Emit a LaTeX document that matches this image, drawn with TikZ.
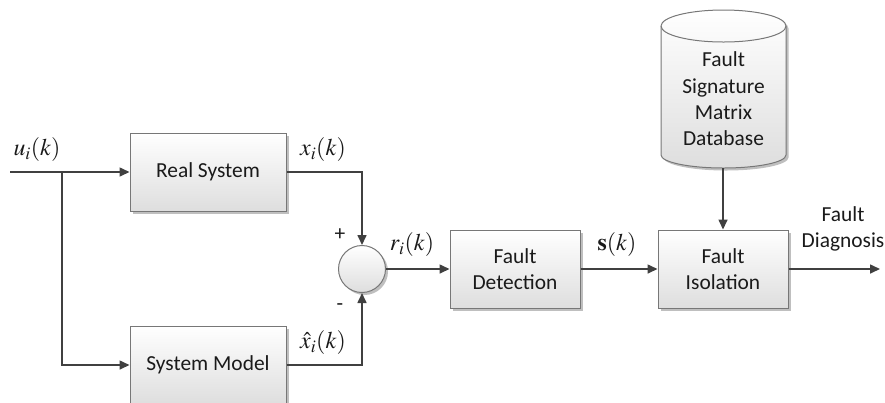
\documentclass[tikz,border=0pt]{standalone}
\usepackage{mathptmx}
\usepackage[no-math]{fontspec}
\setmainfont{Carlito}
\usetikzlibrary{arrows.meta,shadows}
\definecolor{ln}{HTML}{404040}
\definecolor{bd}{HTML}{777777}
\definecolor{txt}{HTML}{1a1a1a}
\begin{document}
\begin{tikzpicture}[x=1bp,y=-1bp,
  font=\fontsize{21.5}{26.5}\selectfont, text=txt,
  shd/.style={drop shadow={shadow xshift=2.5bp,shadow yshift=-2.5bp,opacity=0.25,fill=black}},
  blk/.style={draw=bd, line width=1bp, top color=white, bottom color=black!13,
    minimum width=156bp, minimum height=78bp, inner sep=0pt, align=center, shd},
  conn/.style={draw=ln, line width=1.6bp, -{Triangle[length=10bp,width=9bp]}},
  lbl/.style={inner sep=0pt},
  mth/.style={inner sep=0pt, font=\fontsize{24}{28}\selectfont},
]
\useasboundingbox (0,0) rectangle (885,402);
% blocks
\node[blk] (rs) at (208,172) {Real System};
\node[blk] (sm) at (208,365) {System Model};
\node[circle, draw=bd, line width=1bp, minimum size=47bp, inner sep=0pt,
  top color=white, bottom color=black!13, shd] (sum) at (362,269) {};
\node[blk, minimum width=130bp] (fd) at (515,269) {Fault\\Detection};
\node[blk, minimum width=130bp] (fi) at (723,269) {Fault\\Isolation};
% database cylinder
\path[draw=bd, line width=1bp, top color=white, bottom color=black!13, shd]
  (661,26) -- (661,155) arc[start angle=180,end angle=0,x radius=62.5,y radius=13]
  -- (786,26) arc[start angle=0,end angle=-180,x radius=62.5,y radius=16] -- cycle;
\draw[draw=bd, line width=1bp] (661,26) arc[start angle=180,end angle=0,x radius=62.5,y radius=16];
\node[lbl, align=center] (db) at (723.5,99) {Fault\\Signature\\Matrix\\Database};
\coordinate (dbb) at (723,168);
% coordinates
\coordinate (in) at (10,172);
\coordinate (br) at (62,172);
\coordinate (out) at (880,269);
% connectors
\draw[conn] (in) -- (rs.west);
\draw[conn] (br) |- (sm.west);
\draw[conn] (rs.east) -| (sum.north);
\draw[conn] (sm.east) -| (sum.south);
\draw[conn] (sum.east) -- (fd.west);
\draw[conn] (fd.east) -- (fi.west);
\draw[conn] (dbb) -- (fi.north);
\draw[conn] (fi.east) -- (out);
% labels
\node[mth] (lu) at (37,150) {$u_i(k)$};
\node[mth] (lx) at (323,150) {$x_i(k)$};
\node[mth] (lxh) at (323,343) {$\hat{x}_i(k)$};
\node[lbl] (lp) at (340,235) {+};
\node[lbl] (lm) at (340,307) {-};
\node[mth] (lr) at (412,245) {$r_i(k)$};
\node[mth] (ls) at (617,245) {$\mathbf{s}(k)$};
\node[lbl, align=center] (lfd) at (843,229) {Fault\\Diagnosis};
\end{tikzpicture}
\end{document}
